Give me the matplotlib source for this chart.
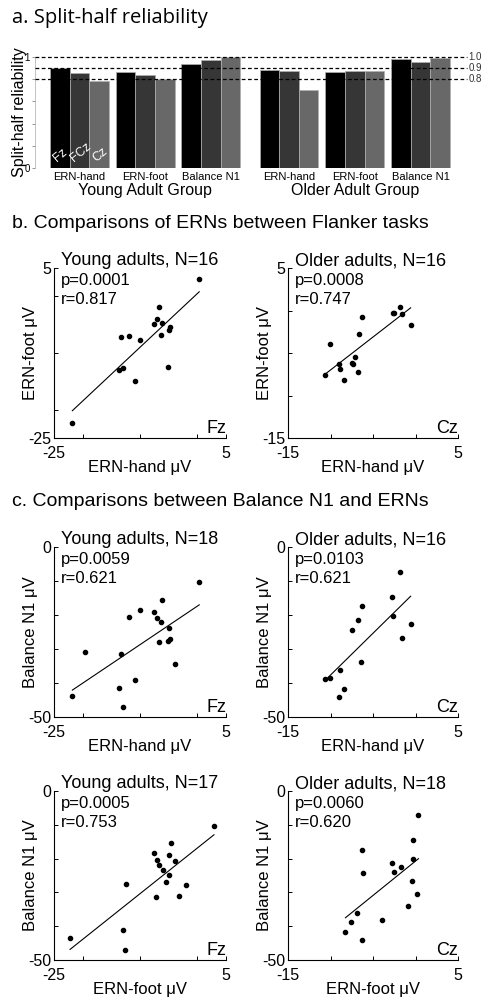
import matplotlib.pyplot as plt
import matplotlib.transforms as mtransforms
import numpy as np

plt.rcParams['font.family'] = ['Liberation Sans', 'DejaVu Sans']
plt.rcParams['axes.linewidth'] = 0.8

W, H = 482, 999

# ---- panel a: split-half reliability ----
sites = ['Fz', 'FCz', 'Cz']
measures = ['ERN-hand', 'ERN-foot', 'Balance N1']
age_groups = ['Young Adult Group', 'Older Adult Group']
young_rel = [[0.900, 0.855, 0.786],
             [0.861, 0.837, 0.804],
             [0.937, 0.976, 0.997]]
older_rel = [[0.885, 0.873, 0.700],
             [0.867, 0.876, 0.876],
             [0.979, 0.952, 0.994]]
ref_lines = [1.0, 0.9, 0.8]
ref_labels = ['1.0', '0.9', '0.8']

# ---- panel b/c scatter data ----
young_hand = [0.33, -6.77, -6.95, -7.64, -6.19, -4.79, -4.91, -6.36,
              -13.35, -11.95, -9.97, -13.64, -12.94, -5.14, -10.79, -21.8]
young_foot = [3.06, -1.88, -3.94, -4.94, -4.65, -5.47, -5.88, -6.76,
              -7.18, -6.94, -7.65, -12.94, -12.65, -12.47, -15.0, -22.35]

older_hand = [-1.78, -2.69, -2.53, -1.55, -0.57, -6.33, -6.69, -10.06,
              -7.16, -9.04, -7.43, -7.35, -8.92, -6.73, -8.45, -10.69]
older_foot = [0.40, -0.26, -0.30, -0.38, -1.71, -0.81, -2.72, -3.97,
              -5.49, -6.27, -6.19, -6.27, -6.89, -7.28, -8.18, -7.55]

young_hand18 = [0.33, -6.19, -9.97, -7.64, -11.95, -6.95, -6.36, -4.91, -6.77,
                -5.08, -4.79, -19.64, -13.35, -3.92, -10.79, -13.64, -12.94, -21.8]
young_n1_18 = [-10.33, -15.55, -18.60, -19.0, -20.67, -20.96, -21.95, -23.72,
               -28.05, -27.56, -27.17, -30.81, -31.40, -34.55, -39.17, -41.34,
               -47.05, -43.70]

older_hand16 = [-1.82, -2.80, -6.33, -2.61, -6.73, -0.57, -7.43, -1.55,
                -6.37, -8.92, -10.69, -10.10, -8.45, -9.04]
older_n1_16 = [-7.35, -14.60, -17.45, -20.40, -21.40, -22.55, -24.30, -26.85,
               -33.90, -36.10, -38.85, -38.45, -41.90, -44.05]

young_foot17 = [2.90, -4.62, -7.64, -4.97, -6.95, -6.71, -3.97, -5.96, -5.02,
                -5.49, -12.48, -1.94, -7.24, -3.16, -12.89, -12.54, -22.2]
young_n1_17 = [-10.24, -15.35, -18.41, -18.80, -20.47, -21.75, -20.67, -23.43,
               -24.90, -26.87, -27.56, -27.85, -31.30, -31.0, -41.14, -46.95, -43.50]

older_foot18 = [0.35, -0.31, -6.29, -0.35, -2.73, -1.68, -2.50, -6.17,
                -0.39, 0.23, -0.86, -6.91, -7.62, -3.98, -8.24, -6.29]
older_n1_18 = [-7.09, -14.47, -17.32, -20.18, -21.26, -22.44, -23.92, -24.21,
               -26.67, -30.51, -33.96, -36.12, -38.78, -38.29, -41.83, -43.99]


def px(x0, y0, x1, y1):
    return [x0 / W, 1 - y1 / H, (x1 - x0) / W, (y1 - y0) / H]


fig = plt.figure(figsize=(W / 100, H / 100), dpi=100)

# section titles
fig.text(12 / W, 1 - 18 / H, 'a. Split-half reliability', fontsize=14.5,
         family=['Open Sans', 'DejaVu Sans'], va='center', ha='left')
fig.text(12 / W, 1 - 223 / H, 'b. Comparisons of ERNs between Flanker tasks',
         fontsize=14, va='center', ha='left')
fig.text(12 / W, 1 - 502 / H, 'c. Comparisons between Balance N1 and ERNs',
         fontsize=14, va='center', ha='left')

# ---- bar chart ----
ax = fig.add_axes(px(35, 57, 452, 168))
bar_colors = ['#000000', '#363636', '#686868']
group_step = 3.35
age_offset = 10.68
centers = []
for g, rel in enumerate([young_rel, older_rel]):
    for m, vals in enumerate(rel):
        c = g * age_offset + m * group_step
        centers.append(c)
        for s, v in enumerate(vals):
            ax.bar(c + (s - 1), v, width=1.0, color=bar_colors[s],
                   edgecolor='#b0b0b0', linewidth=0.5, zorder=2)

for s, name in enumerate(sites):
    ax.text(centers[0] + (s - 1) + 0.05, 0.03, name, rotation=40, color='white',
            fontsize=9, ha='center', va='bottom', zorder=3)

for y, lab in zip(ref_lines, ref_labels):
    ax.axhline(y, xmin=0, xmax=1.035, color='black', linestyle=(0, (3, 2)),
               linewidth=0.9, clip_on=False, zorder=4)
    ax.text(1.04, y, lab, transform=mtransforms.blended_transform_factory(
        ax.transAxes, ax.transData), fontsize=7, va='center', ha='left',
        color='#333333')

ax.set_xlim(centers[0] - 2.26, centers[-1] + 1.6)
ax.set_ylim(0, 1)
ax.set_xticks(centers)
ax.set_xticklabels(measures * 2, fontsize=8)
ax.tick_params(axis='x', length=0, pad=3)
ax.set_yticks([0, 0.2, 0.4, 0.6, 0.8, 1.0])
ax.set_yticklabels(['0', '', '', '', '', '1'], fontsize=7)
ax.tick_params(axis='y', direction='out', length=2.5, width=0.6,
               color='#888888', pad=1)
for sp in ['top', 'right', 'bottom']:
    ax.spines[sp].set_visible(False)
ax.spines['left'].set_color('#aaaaaa')
ax.spines['left'].set_linewidth(0.5)
ax.set_ylabel('Split-half reliability', fontsize=11.5)
ax.yaxis.set_label_coords(-0.02, 0.5)
trans = mtransforms.blended_transform_factory(ax.transData, ax.transAxes)
for g, name in enumerate(age_groups):
    mid = centers[g * 3 + 1]
    ax.text(mid, -0.2, name, transform=trans, fontsize=11.5,
            ha='center', va='center')


# ---- scatter panels ----
def scatter_panel(rect, x, y, xlim, ylim, xt, yt, title, p, r, site,
                  xlabel, ylabel):
    a = fig.add_axes(rect)
    x = np.asarray(x)
    y = np.asarray(y)
    a.plot(x, y, 'o', color='black', markersize=3, zorder=3)
    k, b = np.polyfit(x, y, 1)
    xs = np.array([x.min(), x.max()])
    a.plot(xs, k * xs + b, color='black', linewidth=0.8)
    a.set_xlim(xlim)
    a.set_ylim(ylim)
    a.set_xticks([xlim[0]] + xt + [xlim[1]])
    a.set_xticklabels([str(xlim[0])] + [''] * len(xt) + [str(xlim[1])])
    a.set_yticks([ylim[0]] + yt + [ylim[1]])
    a.set_yticklabels([str(ylim[0])] + [''] * len(yt) + [str(ylim[1])])
    a.tick_params(direction='in', length=3, width=0.7, labelsize=11.5)
    a.tick_params(axis='x', pad=6)
    a.tick_params(axis='y', pad=2)
    a.spines['top'].set_visible(False)
    a.spines['right'].set_visible(False)
    a.text(0.04, 1.015, title, transform=a.transAxes, fontsize=13,
           ha='left', va='baseline')
    a.text(0.04, 0.925, 'p=' + p, transform=a.transAxes, fontsize=12,
           ha='left', va='center')
    a.text(0.04, 0.815, 'r=' + r, transform=a.transAxes, fontsize=12,
           ha='left', va='center')
    a.text(1.0, 0.03, site, transform=a.transAxes, fontsize=13,
           ha='right', va='baseline')
    a.set_xlabel(xlabel, fontsize=12)
    a.set_ylabel(ylabel, fontsize=12)
    a.xaxis.set_label_coords(0.5, -0.13)
    a.yaxis.set_label_coords(-0.095, 0.5)
    return a


L1, R1 = 54, 226
L2, R2 = 288, 458

scatter_panel(px(L1, 268, R1, 438), young_hand, young_foot, (-25, 5), (-25, 5),
              [-20, -10, 0], [-20, -10, 0], 'Young adults, N=16', '0.0001',
              '0.817', 'Fz', 'ERN-hand μV', 'ERN-foot μV')
scatter_panel(px(L2, 268, R2, 438), older_hand, older_foot, (-15, 5), (-15, 5),
              [-10, -5, 0], [-10, -5, 0], 'Older adults, N=16', '0.0008',
              '0.747', 'Cz', 'ERN-hand μV', 'ERN-foot μV')
scatter_panel(px(L1, 547, R1, 717), young_hand18, young_n1_18, (-25, 5), (-50, 0),
              [-20, -10, 0], [-40, -30, -20, -10], 'Young adults, N=18', '0.0059',
              '0.621', 'Fz', 'ERN-hand μV', 'Balance N1 μV')
scatter_panel(px(L2, 547, R2, 717), older_hand16, older_n1_16, (-15, 5), (-50, 0),
              [-10, -5, 0], [-40, -30, -20, -10], 'Older adults, N=16', '0.0103',
              '0.621', 'Cz', 'ERN-hand μV', 'Balance N1 μV')
scatter_panel(px(L1, 791, R1, 960), young_foot17, young_n1_17, (-25, 5), (-50, 0),
              [-20, -10, 0], [-40, -30, -20, -10], 'Young adults, N=17', '0.0005',
              '0.753', 'Fz', 'ERN-foot μV', 'Balance N1 μV')
scatter_panel(px(L2, 791, R2, 960), older_foot18, older_n1_18, (-15, 5), (-50, 0),
              [-10, -5, 0], [-40, -30, -20, -10], 'Older adults, N=18', '0.0060',
              '0.620', 'Cz', 'ERN-foot μV', 'Balance N1 μV')

fig.savefig('out.png', dpi=100)
